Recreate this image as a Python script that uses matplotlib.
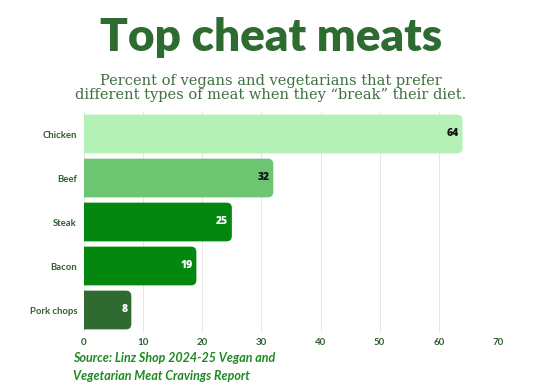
import matplotlib
matplotlib.use("Agg")
import matplotlib.pyplot as plt
from matplotlib.patches import FancyBboxPatch

categories = ["Chicken", "Beef", "Steak", "Bacon", "Pork chops"]
values = [64, 32, 25, 19, 8]
bar_colors = ["#b3f1b6", "#6cc571", "#03870f", "#03870f", "#2f6a31"]
label_colors = ["#111111", "#111111", "#ffffff", "#ffffff", "#ffffff"]
xticks = [0, 10, 20, 30, 40, 50, 60, 70]

W, H = 536, 389
fig = plt.figure(figsize=(W / 100, H / 100), dpi=100)
fig.patch.set_facecolor("white")

left, right = 84 / W, 498 / W
top, bottom = 1 - 112 / H, 1 - 332 / H
ax = fig.add_axes([left, bottom, right - left, top - bottom])

ypos = list(range(len(categories)))
bars = ax.barh(ypos, values, height=0.88, color=bar_colors)
ax.set_xlim(0, 70)
ax.set_ylim(len(categories) - 0.5, -0.5)

ax_w_px = (right - left) * W
ax_h_px = (top - bottom) * H
aspect = (5 / ax_h_px) / (70 / ax_w_px)
for b, c in zip(bars, bar_colors):
    x0, y0 = b.get_x(), b.get_y()
    w, h = b.get_width(), b.get_height()
    b.set_visible(False)
    p = FancyBboxPatch((x0 - 3, y0), w + 3, h,
                       boxstyle="round,pad=0,rounding_size=0.9",
                       mutation_aspect=aspect, facecolor=c, edgecolor="none",
                       zorder=3)
    ax.add_patch(p)
    p.set_clip_path(ax.patch)

for y, v, lc in zip(ypos, values, label_colors):
    ax.text(v - 0.6, y, str(v), ha="right", va="center", fontsize=7.5,
            fontweight="heavy", color=lc, zorder=4, family="Open Sans")

ax.set_yticks(ypos)
ax.set_yticklabels(categories, fontsize=6.8, fontweight="bold", color="#2f5f30", family="Lato")
ax.set_xticks(xticks)
ax.set_xticklabels([str(t) for t in xticks], fontsize=7, fontweight="bold", color="#2f5f30", family="Lato")
ax.tick_params(axis="both", length=0)
ax.tick_params(axis="y", pad=5)
ax.tick_params(axis="x", pad=4)
for s in ax.spines.values():
    s.set_visible(False)
ax.grid(axis="x", color="#e6e6e6", linewidth=0.7, zorder=0)
ax.set_axisbelow(True)

fig.text(271 / W, 1 - 38 / H, "Top cheat meats", ha="center", va="center",
         fontsize=33, fontweight="heavy", color="#2e6b30", family="Lato")
fig.text(271 / W, 1 - 88 / H,
         "Percent of vegans and vegetarians that prefer\ndifferent types of meat when they \u201cbreak\u201d their diet.",
         ha="center", va="center", fontsize=10.5, color="#3f7040", family="DejaVu Serif",
         linespacing=1.0)
fig.text(73 / W, 1 - 367 / H,
         "Source: Linz Shop 2024-25 Vegan and\nVegetarian Meat Cravings Report",
         ha="left", va="center", fontsize=9, fontweight="bold", fontstyle="italic",
         color="#1e8a22", family="Lato", linespacing=1.5)

fig.savefig("out.png", dpi=100, facecolor="white")
